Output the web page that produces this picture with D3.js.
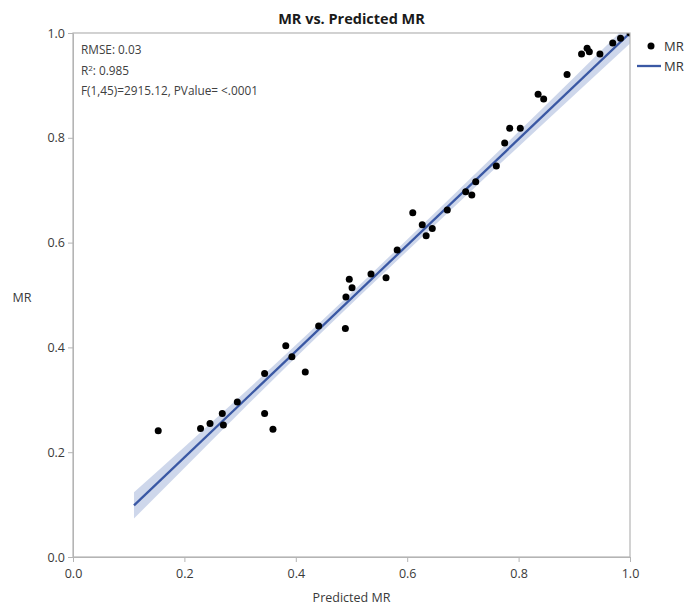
<!DOCTYPE html>
<html><head><meta charset="utf-8">
<script src="https://cdn.jsdelivr.net/npm/d3@7"></script>
<style>body{margin:0;background:#fff}svg{font-family:"Open Sans",sans-serif}</style>
</head><body><svg id="c" width="690" height="611"></svg>
<script>
const predicted = [0.153,0.229,0.246,0.268,0.270,0.295,0.344,0.344,0.359,0.382,0.393,0.417,0.441,0.489,0.490,0.496,0.501,0.535,0.562,0.582,0.610,0.627,0.634,0.645,0.672,0.705,0.716,0.723,0.760,0.775,0.784,0.803,0.835,0.845,0.887,0.913,0.923,0.927,0.946,0.969,0.983,1.000];
const actual    = [0.241,0.245,0.255,0.274,0.252,0.296,0.350,0.274,0.244,0.403,0.382,0.353,0.441,0.436,0.496,0.530,0.514,0.540,0.533,0.586,0.657,0.634,0.613,0.627,0.662,0.697,0.691,0.716,0.746,0.790,0.818,0.818,0.883,0.874,0.921,0.960,0.971,0.964,0.960,0.981,0.990,1.000];
const fitIntercept = -0.0125, fitSlope = 1.0125, fitXStart = 0.1095, fitXEnd = 1.0;
const ciX    = [0.1095,0.2,0.3,0.45,0.6,0.75,0.9,1.0];
const ciHalf = [0.025,0.020,0.015,0.011,0.011,0.013,0.017,0.020];
const ticks = [0,0.2,0.4,0.6,0.8,1.0];
const statsLines = ["RMSE: 0.03","R²: 0.985","F(1,45)=2915.12, PValue= <.0001"];

const svg = d3.select("#c");
const L=73,R=630,T=33,B=557;
const x = d3.scaleLinear().domain([0,1]).range([L,R]);
const y = d3.scaleLinear().domain([0,1]).range([B,T]);

svg.append("text").attr("x",(L+R)/2).attr("y",24).attr("text-anchor","middle")
  .attr("font-size",14.5).attr("font-weight","bold").attr("fill","#1a1a1a").text("MR vs. Predicted MR");

svg.append("clipPath").attr("id","pc").append("rect").attr("x",L).attr("y",T).attr("width",R-L).attr("height",B-T);
const g = svg.append("g").attr("clip-path","url(#pc)");

const band = ciX.map((v,i)=>({x:v,lo:fitIntercept+fitSlope*v-ciHalf[i],hi:fitIntercept+fitSlope*v+ciHalf[i]}));
g.append("path").datum(band).attr("fill","#c5d0e8").attr("opacity",0.85)
  .attr("d",d3.area().x(d=>x(d.x)).y0(d=>y(d.lo)).y1(d=>y(d.hi)).curve(d3.curveMonotoneX));
g.append("line").attr("x1",x(fitXStart)).attr("y1",y(fitIntercept+fitSlope*fitXStart))
  .attr("x2",x(fitXEnd)).attr("y2",y(fitIntercept+fitSlope*fitXEnd))
  .attr("stroke","#3a58a4").attr("stroke-width",2.3);
g.selectAll("circle").data(predicted).join("circle")
  .attr("cx",d=>x(d)).attr("cy",(d,i)=>y(actual[i])).attr("r",3.5).attr("fill","#000");

svg.append("rect").attr("x",L).attr("y",T).attr("width",R-L).attr("height",B-T)
  .attr("fill","none").attr("stroke","#b4b4b4").attr("stroke-width",1.2);

const xa = svg.append("g").attr("transform",`translate(0,${B})`)
  .call(d3.axisBottom(x).tickValues(ticks).tickFormat(d3.format(".1f")).tickSize(5).tickSizeOuter(0));
const ya = svg.append("g").attr("transform",`translate(${L},0)`)
  .call(d3.axisLeft(y).tickValues(ticks).tickFormat(d3.format(".1f")).tickSize(5).tickSizeOuter(0));
[xa,ya].forEach(a=>{
  a.select(".domain").attr("stroke","#b4b4b4");
  a.selectAll(".tick line").attr("stroke","#b4b4b4");
  a.selectAll(".tick text").attr("font-size",12.5).attr("fill","#3a3a3a").attr("font-family","Open Sans, sans-serif");
});
xa.selectAll(".tick text").attr("dy","1.0em");

svg.append("text").attr("x",(L+R)/2).attr("y",602).attr("text-anchor","middle")
  .attr("font-size",12.5).attr("fill","#3a3a3a").text("Predicted MR");
svg.append("text").attr("x",22).attr("y",302).attr("text-anchor","middle")
  .attr("font-size",12.5).attr("fill","#3a3a3a").text("MR");

const fs = 11.8;
statsLines.forEach((s,i)=>{
  const t=svg.append("text").attr("x",81).attr("y",54+i*20.5).attr("font-size",fs).attr("fill","#404040");
  if(i===1){
    t.append("tspan").text("R");
    t.append("tspan").attr("font-size",8).attr("dy",-4).text("2");
    t.append("tspan").attr("dy",4).text(": 0.985");
  } else t.text(s);
});

svg.append("circle").attr("cx",651).attr("cy",46).attr("r",3.5).attr("fill","#000");
svg.append("text").attr("x",664).attr("y",51).attr("font-size",13).attr("fill","#333").text("MR");
svg.append("line").attr("x1",637).attr("x2",661).attr("y1",66).attr("y2",66).attr("stroke","#3a58a4").attr("stroke-width",2.3);
svg.append("text").attr("x",664).attr("y",71).attr("font-size",13).attr("fill","#333").text("MR");
</script></body></html>
